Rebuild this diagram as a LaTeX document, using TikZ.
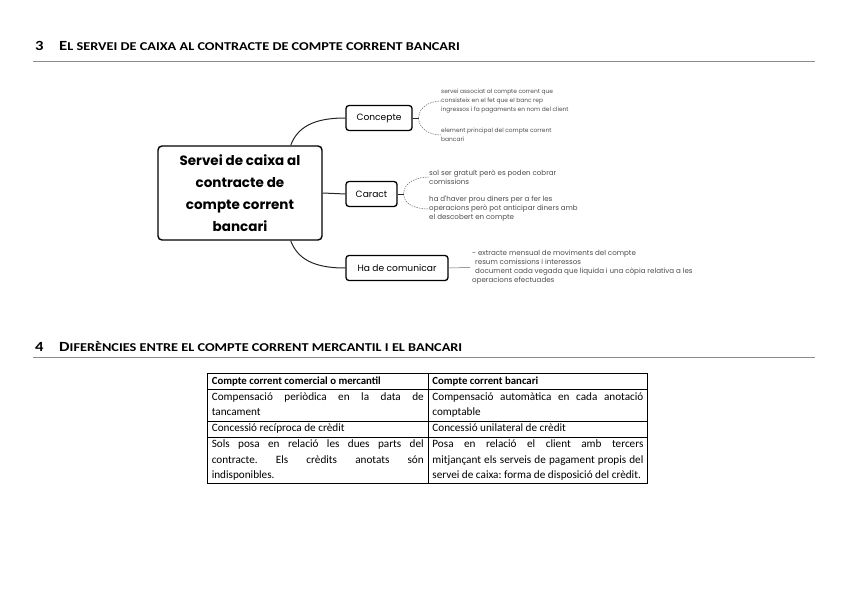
\documentclass[tikz,border=0pt]{standalone}
\usepackage{fontspec}
\usepackage{array}
\setmainfont{Carlito}
\newfontfamily\mapfont{Poppins}
\newfontfamily\headfont[FakeStretch=1.19]{Carlito}
\usetikzlibrary{positioning}

\newcommand{\secnum}[2]{\headfont\bfseries{\fontsize{14}{16}\selectfont #1}{\fontsize{12}{14}\selectfont\MakeUppercase{#2}}}

\begin{document}
\begin{tikzpicture}[
  x=1pt, y=-1pt,
  hub/.style={draw, rounded corners=4pt, line width=1.4pt, align=center, minimum width=164pt, minimum height=94pt, inner sep=2pt, font=\mapfont\bfseries\fontsize{13.5}{22}\selectfont},
  br/.style={draw, rounded corners=3pt, line width=1.3pt, minimum height=25pt, inner sep=1pt, font=\mapfont\fontsize{9.1}{11}\selectfont},
  lf/.style={anchor=west, align=left, inner sep=0pt, text=black!70, font=\mapfont\fontsize{5.9}{9}\selectfont},
  lfb/.style={lf, font=\mapfont\fontsize{7.1}{9}\selectfont},
  ln/.style={line width=1pt, draw=black!85},
  dl/.style={line width=0.4pt, draw=black!70, dashed, dash pattern=on 1.5pt off 1pt},
  rl/.style={line width=0.8pt, draw=black!45},
]
\useasboundingbox (0,0) rectangle (848,599);

% section 3
\node[anchor=base west, inner sep=0] (n3) at (35,51) {\headfont\bfseries\fontsize{14}{16}\selectfont 3};
\node[anchor=base west, inner sep=0] (h3) at (59,51) {\secnum{E}{l servei de caixa al contracte de compte corrent bancari}};
\draw[rl] (33,61) -- (815,61);

% mind map
\node[hub] (main) at (240,193) {Servei de caixa al\\contracte de\\compte corrent\\bancari};
\node[br, minimum width=66pt] (con) at (379,118) {Concepte};
\node[br, minimum width=51pt] (car) at (371.5,194) {Caract};
\node[br, minimum width=102pt] (ha) at (397,268) {Ha de comunicar};

\draw[ln] ([xshift=-32pt]main.north east) to[out=70,in=180] (con.west);
\draw[ln] (main.east) -- (car.west);
\draw[ln] ([xshift=-32pt]main.south east) to[out=-70,in=180] (ha.west);

\node[lf] (c1) at (441,101) {servei associat al compte corrent que\\consisteix en el fet que el banc rep\\ingressos i fa pagaments en nom del client};
\node[lf] (c2) at (441,135) {element principal del compte corrent\\bancari};
\node[lfb] (k1) at (429,177) {sol ser gratuït però es poden cobrar\\comissions};
\node[lfb] (k2) at (429,209) {ha d'haver prou diners per a fer les\\operacions però pot anticipar diners amb\\el descobert en compte};
\node[lfb] (m1) at (472,267.5) {- extracte mensual de moviments del compte\\\hspace*{3pt}resum comissions i interessos\\\hspace*{3pt}document cada vegada que liquida i una còpia relativa a les\\operacions efectuades};

\coordinate (cj) at ([xshift=6pt]con.east);
\coordinate (kj) at ([xshift=6pt]car.east);
\draw[ln, line width=0.5pt] (con.east) -- (cj);
\draw[ln, line width=0.5pt] (car.east) -- (kj);
\draw[dl] (cj) to[out=90,in=180] (c1.west);
\draw[dl] (cj) to[out=-90,in=180] (c2.west);
\draw[dl] (kj) to[out=90,in=180] (k1.west);
\draw[dl] (kj) to[out=-90,in=180] (k2.west);
\draw[ln, line width=0.5pt, draw=black!60] (ha.east) -- ([xshift=-2pt]m1.west);

% section 4
\node[anchor=base west, inner sep=0] (n4) at (35,351) {\headfont\bfseries\fontsize{14}{16}\selectfont 4};
\node[anchor=base west, inner sep=0] (h4) at (59,351) {\secnum{D}{iferències entre el compte corrent mercantil i el bancari}};
\draw[rl] (33,357) -- (815,357);

% table
\node[anchor=north west, inner sep=0pt] (tab) at (207,373) {%
  \fontsize{11.2}{15.4}\selectfont\frenchspacing
  \setlength{\tabcolsep}{4pt}\setlength{\arrayrulewidth}{0.6pt}%
  \begin{tabular}{|>{\hyphenpenalty=10000}p{212pt}|>{\hyphenpenalty=10000}p{211pt}|}
  \hline
  \textbf{\fontsize{10.8}{15.4}\selectfont Compte corrent comercial o mercantil} & \textbf{\fontsize{10.8}{15.4}\selectfont Compte corrent bancari}\\
  \hline
  Compensació periòdica en la data de\linebreak tancament & Compensació automàtica en cada anotació\linebreak comptable\\
  \hline
  Concessió recíproca de crèdit & Concessió unilateral de crèdit\\
  \hline
  Sols posa en relació les dues parts del\linebreak contracte. Els crèdits anotats són\linebreak indisponibles. & Posa en relació el client amb tercers\linebreak mitjançant els serveis de pagament propis del\linebreak servei de caixa: forma de disposició del crèdit.\\
  \hline
  \end{tabular}};
\end{tikzpicture}
\end{document}
